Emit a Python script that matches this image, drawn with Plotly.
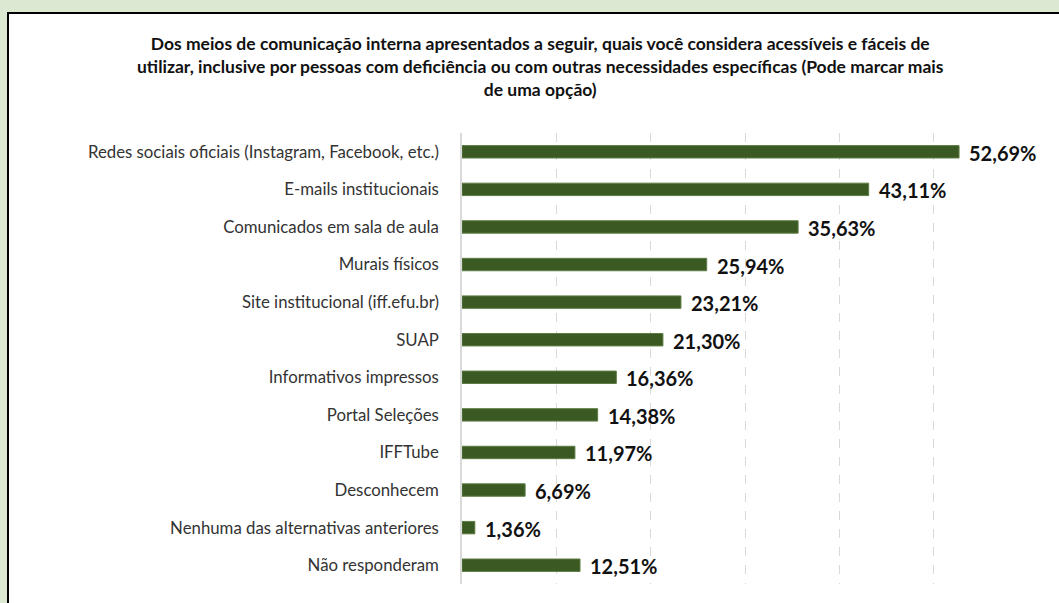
import plotly.graph_objects as go

categories = [
    "Redes sociais oficiais (Instagram, Facebook, etc.)",
    "E-mails institucionais",
    "Comunicados em sala de aula",
    "Murais físicos",
    "Site institucional (iff.efu.br)",
    "SUAP",
    "Informativos impressos",
    "Portal Seleções",
    "IFFTube",
    "Desconhecem",
    "Nenhuma das alternativas anteriores",
    "Não responderam",
]
values = [52.69, 43.11, 35.63, 25.94, 23.21, 21.30, 16.36, 14.38, 11.97, 6.69, 1.36, 12.51]
value_labels = [f"{v:.2f}".replace(".", ",") + "%" for v in values]

title_text = ("Dos meios de comunicação interna apresentados a seguir, quais você considera acessíveis e fáceis de<br>"
              "utilizar, inclusive por pessoas com deficiência ou com outras necessidades específicas (Pode marcar mais<br>"
              "de uma opção)")

FONT = "Lato"
BAR = "#3b5a23"
W, H = 1059, 603
L, R, T, B = 462, 31, 133, 19
pw = W - L - R
ph = H - T - B

def px_x(p):
    return (p - L) / pw

def px_y(p):
    return (H - B - p) / ph

fig = go.Figure()
fig.add_trace(go.Bar(
    x=values, y=categories, orientation="h",
    marker=dict(color=BAR, line=dict(color="#5e7d45", width=1)),
    width=0.33,
    hoverinfo="skip",
))

for v, lab, c in zip(values, value_labels, categories):
    fig.add_annotation(x=v, y=c, text=f"<b>{lab}</b>", showarrow=False,
                       xanchor="left", xshift=8, yshift=-1,
                       font=dict(family=FONT, size=20, color="#111111"))

fig.add_annotation(xref="paper", yref="paper", x=px_x(540), y=px_y(31),
                   text=f"<b>{title_text}</b>", showarrow=False,
                   xanchor="center", yanchor="top", align="center",
                   font=dict(family=FONT, size=17.5, color="#111111"))

fig.add_shape(type="rect", xref="paper", yref="paper", layer="below",
              x0=px_x(8), x1=px_x(1400), y0=px_y(900), y1=px_y(13),
              fillcolor="white", line=dict(color="black", width=2))

fig.update_xaxes(range=[0, 60], dtick=10, showticklabels=False, showgrid=True,
                 gridcolor="#d9d9d9", griddash="dash", gridwidth=1, zeroline=False,
                 showline=False, fixedrange=True)
fig.update_yaxes(categoryorder="array", categoryarray=categories, autorange="reversed",
                 showline=True, linecolor="#d9d9d9", linewidth=1.5, showgrid=False,
                 ticks="", ticklabelstandoff=18, fixedrange=True,
                 tickfont=dict(family=FONT, size=16.8, color="#333333"))

fig.update_layout(
    width=W, height=H,
    margin=dict(l=L, r=R, t=T, b=B, autoexpand=False),
    paper_bgcolor="#dde8d3",
    plot_bgcolor="rgba(0,0,0,0)",
    showlegend=False,
    font=dict(family=FONT),
)

fig.write_html("out.html",
               config={"displayModeBar": False},
               post_script="document.body.style.margin='0';document.body.style.overflow='hidden';")
